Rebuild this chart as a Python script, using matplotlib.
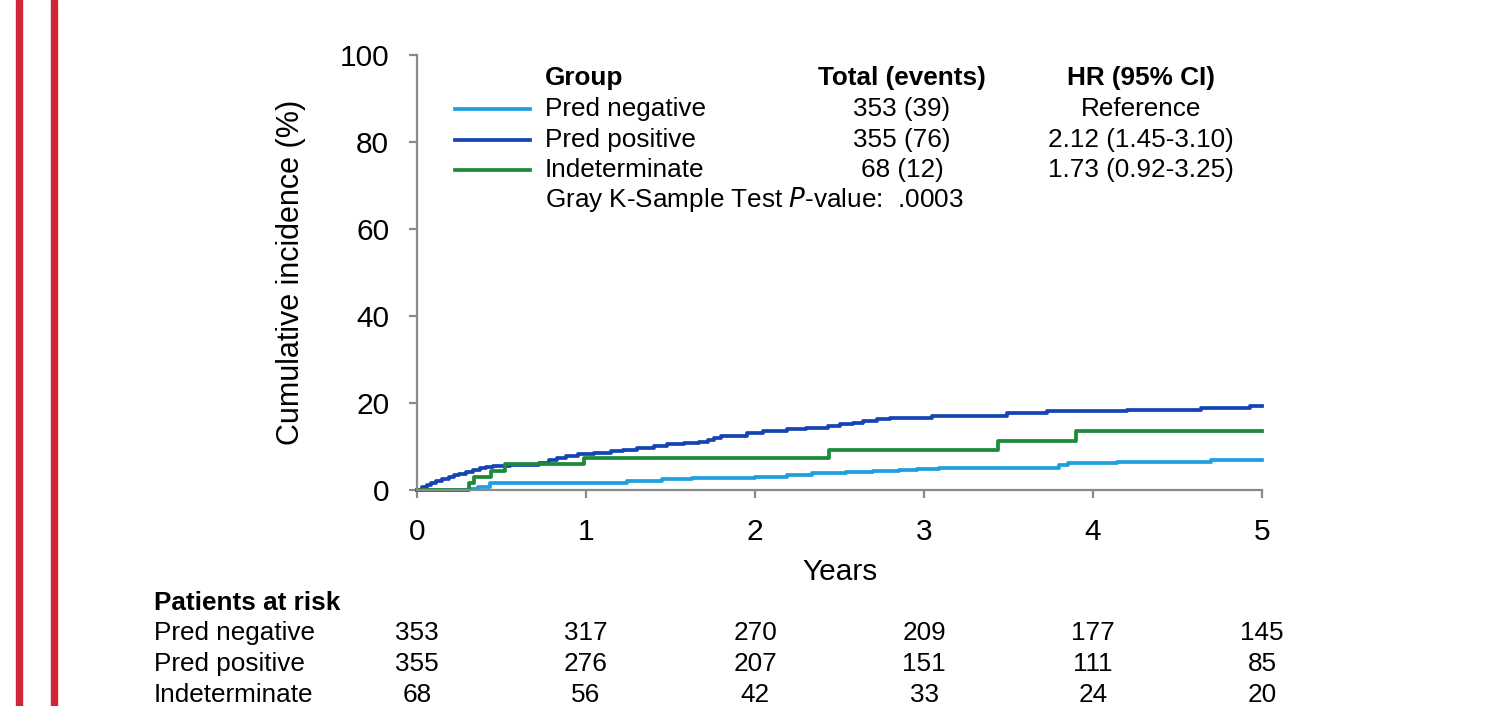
import numpy as np
import matplotlib.pyplot as plt
from matplotlib.lines import Line2D
from matplotlib.patches import Rectangle
import matplotlib.transforms as mtransforms

plt.rcParams['font.family'] = ['Liberation Sans', 'DejaVu Sans']

W, H = 1499, 706

# cumulative incidence curves (years, %)
neg_t = [0, 0.30, 0.36, 0.43, 1.24, 1.45, 1.63, 2.00, 2.19, 2.34, 2.54, 2.70, 2.85, 2.96, 3.09, 3.80, 3.85, 4.14, 4.70, 5.0]
neg_v = [0, 0.3, 0.8, 1.6, 2.1, 2.5, 2.8, 3.0, 3.4, 3.9, 4.1, 4.4, 4.6, 4.8, 5.1, 5.7, 6.2, 6.4, 7.0, 7.0]

pos_t = [0, 0.03, 0.06, 0.08, 0.11, 0.15, 0.19, 0.22, 0.25, 0.29, 0.33, 0.37, 0.41, 0.45, 0.55, 0.72, 0.78, 0.83,
         0.88, 0.95, 1.05, 1.15, 1.22, 1.30, 1.40, 1.48, 1.58, 1.67, 1.72, 1.76, 1.80, 1.95, 2.05, 2.19, 2.30,
         2.43, 2.50, 2.58, 2.64, 2.72, 2.80, 3.05, 3.41, 3.49, 3.73, 4.20, 4.64, 4.93, 5.0]
pos_v = [0, 0.6, 1.1, 1.7, 2.0, 2.5, 3.0, 3.4, 3.7, 4.2, 4.6, 5.0, 5.3, 5.6, 5.8, 6.2, 6.8, 7.3,
         7.8, 8.3, 8.6, 9.0, 9.3, 9.7, 10.1, 10.5, 10.8, 11.0, 11.5, 12.0, 12.5, 13.1, 13.6, 14.0, 14.3,
         14.7, 15.1, 15.5, 15.9, 16.3, 16.6, 16.9, 17.1, 17.7, 18.1, 18.4, 18.9, 19.3, 19.4]

ind_t = [0, 0.31, 0.34, 0.44, 0.52, 0.99, 2.44, 3.44, 3.90, 5.0]
ind_v = [0, 1.5, 2.9, 4.4, 5.9, 7.4, 9.1, 11.3, 13.6, 13.6]

groups = ['Pred negative', 'Pred positive', 'Indeterminate']
colors = ['#1f9fe0', '#1545b5', '#1b8a3a']
totals = ['353 (39)', '355 (76)', '68 (12)']
hrs = ['Reference', '2.12 (1.45-3.10)', '1.73 (0.92-3.25)']

risk_years = [0, 1, 2, 3, 4, 5]
risk_neg = [353, 317, 270, 209, 177, 145]
risk_pos = [355, 276, 207, 151, 111, 85]
risk_ind = [68, 56, 42, 33, 24, 20]

def fx(px):
    return px / W

def fy(py):
    return 1 - py / H

fig = plt.figure(figsize=(W / 100, H / 100), dpi=100)
ax = fig.add_axes([fx(417), fy(490), fx(1262) - fx(417), fy(55) - fy(490)])

# red bars at left edge
for x0 in [16, 51]:
    fig.patches.append(Rectangle((fx(x0), 0), fx(6), 1, transform=fig.transFigure,
                                 color='#d0263a', zorder=0))

for t, v, c in zip([neg_t, pos_t, ind_t], [neg_v, pos_v, ind_v], colors):
    ax.step(t, v, where='post', color=c, lw=2.7, clip_on=False)

ax.set_xlim(0, 5)
ax.set_ylim(0, 100)
ax.set_xticks(range(6))
ax.set_yticks(range(0, 101, 20))
for s in ['top', 'right']:
    ax.spines[s].set_visible(False)
for s in ['left', 'bottom']:
    ax.spines[s].set_color('#8a8a8a')
    ax.spines[s].set_linewidth(1.6)
ax.tick_params(axis='both', direction='out', length=6, width=1.6, color='#8a8a8a', labelsize=21.5)
ax.tick_params(axis='y', pad=14)
ax.tick_params(axis='x', pad=14)

fig.text(fx(291), fy(272), 'Cumulative incidence (%)', rotation=90, fontsize=22, ha='center', va='center')
fig.text(fx(840), fy(572), 'Years', fontsize=21.5, ha='center', va='center')

# legend block
fs = 18.8
row_y = [78, 109, 140, 170, 200]
fig.text(fx(545), fy(row_y[0]), 'Group', fontsize=fs, fontweight='bold', va='center')
fig.text(fx(902), fy(row_y[0]), 'Total (events)', fontsize=fs, fontweight='bold', va='center', ha='center')
fig.text(fx(1141), fy(row_y[0]), 'HR (95% CI)', fontsize=fs, fontweight='bold', va='center', ha='center')
for i, g in enumerate(groups):
    y = fy(row_y[i + 1])
    fig.add_artist(Line2D([fx(455), fx(530)], [y, y], color=colors[i], lw=2.7))
    fig.text(fx(545), y, g, fontsize=fs, va='center')
    fig.text(fx(902), y, totals[i], fontsize=fs, va='center', ha='center')
    fig.text(fx(1141), y, hrs[i], fontsize=fs, va='center', ha='center')
fig.text(fx(545), fy(row_y[4]), 'Gray K-Sample Test $\\mathit{P}$-value:  .0003', fontsize=fs, va='center')

# patients at risk table
trans = mtransforms.blended_transform_factory(ax.transData, fig.transFigure)
fig.text(fx(154), fy(603), 'Patients at risk', fontsize=fs, fontweight='bold', va='center')
table_y = [633, 664, 695]
for g, counts, yy in zip(groups, [risk_neg, risk_pos, risk_ind], table_y):
    fig.text(fx(154), fy(yy), g, fontsize=fs, va='center')
    for yr, n in zip(risk_years, counts):
        ax.text(yr, fy(yy), str(n), transform=trans, fontsize=fs, ha='center', va='center')

fig.savefig('out.png', dpi=100)
